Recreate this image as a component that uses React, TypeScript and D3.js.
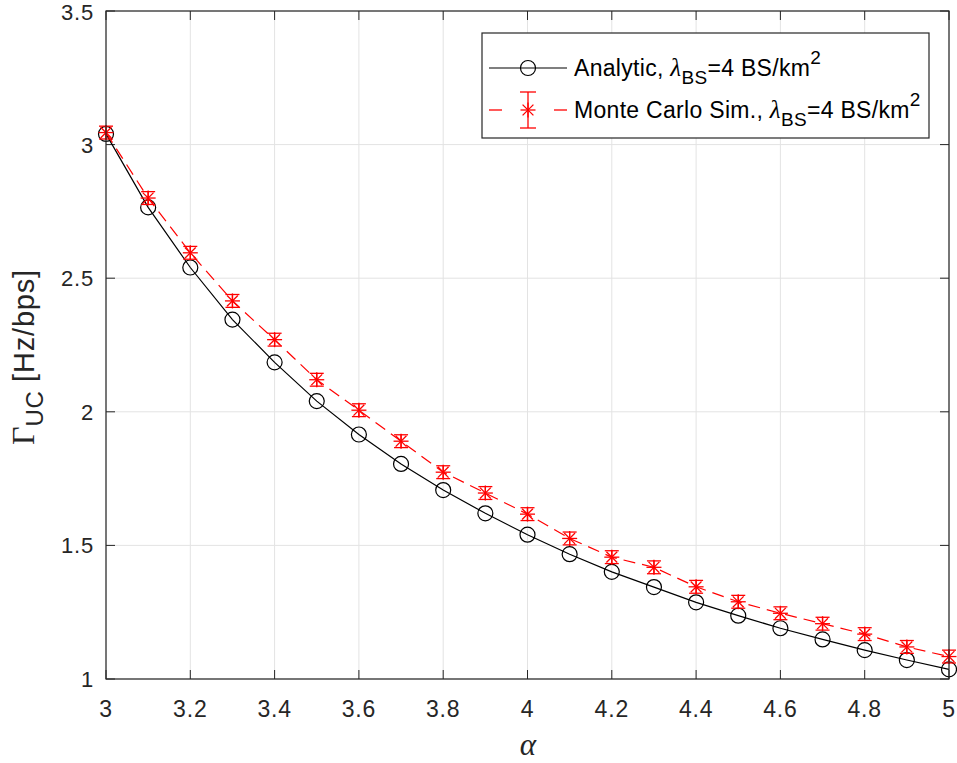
import React from "react";
import * as d3 from "d3";

const alphaVals = [3.0, 3.1, 3.2, 3.3, 3.4, 3.5, 3.6, 3.7, 3.8, 3.9, 4.0, 4.1, 4.2, 4.3, 4.4, 4.5, 4.6, 4.7, 4.8, 4.9, 5.0];
const analytic = [3.04, 2.765, 2.54, 2.345, 2.185, 2.04, 1.915, 1.805, 1.707, 1.62, 1.54, 1.467, 1.401, 1.344, 1.287, 1.237, 1.19, 1.148, 1.108, 1.071, 1.036];
const simulated = [3.045, 2.8, 2.595, 2.415, 2.27, 2.12, 2.006, 1.89, 1.774, 1.696, 1.617, 1.526, 1.456, 1.418, 1.345, 1.289, 1.246, 1.207, 1.168, 1.12, 1.084];
const simError = [0.024, 0.024, 0.024, 0.024, 0.024, 0.024, 0.024, 0.024, 0.024, 0.024, 0.024, 0.024, 0.024, 0.024, 0.024, 0.024, 0.024, 0.024, 0.024, 0.024, 0.024];
const xTicks = [3, 3.2, 3.4, 3.6, 3.8, 4, 4.2, 4.4, 4.6, 4.8, 5];
const yTicks = [1, 1.5, 2, 2.5, 3, 3.5];

const W = 957, H = 763;
const L = 106, R = 949, T = 11, B = 679;
const AX = "#262626";
const GRID = "#e3e3e3";
const SANS = "'Liberation Sans', Arial, Helvetica, sans-serif";
const SERIF = "'Liberation Serif', 'Times New Roman', serif";

function Star({ x, y, s = 7.5, color = "red" }: { x: number; y: number; s?: number; color?: string }) {
  const d = s * 0.72;
  return (
    <g stroke={color} strokeWidth={1.3}>
      <line x1={x - s} y1={y} x2={x + s} y2={y} />
      <line x1={x} y1={y - s} x2={x} y2={y + s} />
      <line x1={x - d} y1={y - d} x2={x + d} y2={y + d} />
      <line x1={x - d} y1={y + d} x2={x + d} y2={y - d} />
    </g>
  );
}

export default function App() {
  const x = d3.scaleLinear().domain([3, 5]).range([L, R]);
  const y = d3.scaleLinear().domain([1, 3.5]).range([B, T]);
  const lineA = d3.line<number>().x((_, i) => x(alphaVals[i])).y((v) => y(v));
  const lineS = d3.line<number>().x((_, i) => x(alphaVals[i])).y((v) => y(v));
  const tick = 9;
  const cap = 7;

  return (
    <svg width={W} height={H} style={{ position: "absolute", left: 0, top: 0, background: "#fff" }}>
      <rect x={0} y={0} width={W} height={H} fill="#fff" />
      {xTicks.map((t) => (
        <line key={"gx" + t} x1={x(t)} x2={x(t)} y1={T} y2={B} stroke={GRID} strokeWidth={1} />
      ))}
      {yTicks.map((t) => (
        <line key={"gy" + t} x1={L} x2={R} y1={y(t)} y2={y(t)} stroke={GRID} strokeWidth={1} />
      ))}
      {xTicks.map((t) => (
        <g key={"tx" + t} stroke={AX} strokeWidth={1}>
          <line x1={x(t)} x2={x(t)} y1={B} y2={B - tick} />
          <line x1={x(t)} x2={x(t)} y1={T} y2={T + tick} />
        </g>
      ))}
      {yTicks.map((t) => (
        <g key={"ty" + t} stroke={AX} strokeWidth={1}>
          <line x1={L} x2={L + tick} y1={y(t)} y2={y(t)} />
          <line x1={R} x2={R - tick} y1={y(t)} y2={y(t)} />
        </g>
      ))}
      <path d={lineA(analytic) || ""} fill="none" stroke="#000" strokeWidth={1.2} />
      {analytic.map((v, i) => (
        <circle key={"c" + i} cx={x(alphaVals[i])} cy={y(v)} r={7.5} fill="none" stroke="#000" strokeWidth={1.2} />
      ))}
      <path d={lineS(simulated) || ""} fill="none" stroke="red" strokeWidth={1.2} strokeDasharray="12,7" />
      {simulated.map((v, i) => {
        const cx = x(alphaVals[i]);
        const y1 = y(v - simError[i]);
        const y2 = y(v + simError[i]);
        return (
          <g key={"s" + i} stroke="red" strokeWidth={1.3}>
            <line x1={cx} x2={cx} y1={y1} y2={y2} />
            <line x1={cx - cap} x2={cx + cap} y1={y1} y2={y1} />
            <line x1={cx - cap} x2={cx + cap} y1={y2} y2={y2} />
            <Star x={cx} y={y(v)} />
          </g>
        );
      })}
      <rect x={L} y={T} width={R - L} height={B - T} fill="none" stroke={AX} strokeWidth={1.2} />
      {xTicks.map((t) => (
        <text key={"lx" + t} x={x(t)} y={717} textAnchor="middle" fontFamily={SANS} fontSize={23} letterSpacing={0.8} fill={AX}>
          {String(t)}
        </text>
      ))}
      {yTicks.map((t) => (
        <text key={"ly" + t} x={94} y={Math.max(y(t) + 8, 20)} textAnchor="end" fontFamily={SANS} fontSize={22} letterSpacing={0.8} fill={AX}>
          {String(t)}
        </text>
      ))}
      <text x={528} y={755} textAnchor="middle" fontFamily={SERIF} fontStyle="italic" fontSize={31} fill={AX}>
        α
      </text>
      <g transform={`translate(34, 357) rotate(-90)`}>
        <text textAnchor="middle" fill={AX}>
          <tspan fontFamily={SERIF} fontSize={32}>Γ</tspan>
          <tspan fontFamily={SANS} fontSize={24} dy={9} letterSpacing={0.5}>UC</tspan>
          <tspan fontFamily={SANS} fontSize={29} dy={-9} letterSpacing={0.8}> [Hz/bps]</tspan>
        </text>
      </g>
      <rect x={482} y={33} width={447} height={105} fill="#fff" stroke={AX} strokeWidth={1.2} />
      <line x1={489} x2={567} y1={68} y2={68} stroke="#000" strokeWidth={1.2} />
      <circle cx={528} cy={68} r={7.5} fill="none" stroke="#000" strokeWidth={1.2} />
      <text x={574} y={76} fontFamily={SANS} fontSize={23} letterSpacing={0.3} fill="#000">
        Analytic,{" "}
        <tspan fontFamily={SERIF} fontStyle="italic" fontSize={25}>λ</tspan>
        <tspan fontSize={19} dy={8}>BS</tspan>
        <tspan dy={-8}>=4 BS/km</tspan>
        <tspan fontSize={19} dy={-12}>2</tspan>
      </text>
      <g stroke="red" strokeWidth={1.3}>
        <line x1={489} x2={502} y1={110} y2={110} />
        <line x1={554} x2={567} y1={110} y2={110} />
        <line x1={528} x2={528} y1={92} y2={128} />
        <line x1={520} x2={536} y1={92} y2={92} />
        <line x1={520} x2={536} y1={128} y2={128} />
      </g>
      <Star x={528} y={110} />
      <text x={574} y={118} fontFamily={SANS} fontSize={23} letterSpacing={0.3} fill="#000">
        Monte Carlo Sim.,{" "}
        <tspan fontFamily={SERIF} fontStyle="italic" fontSize={25}>λ</tspan>
        <tspan fontSize={19} dy={8}>BS</tspan>
        <tspan dy={-8}>=4 BS/km</tspan>
        <tspan fontSize={19} dy={-12}>2</tspan>
      </text>
    </svg>
  );
}
